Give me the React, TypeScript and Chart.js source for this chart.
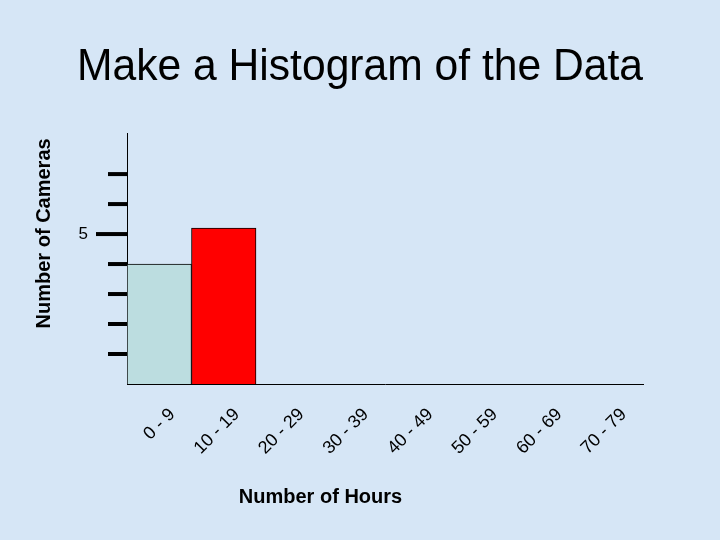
import React, { useEffect, useRef } from "react";
import { Chart, registerables } from "chart.js";

Chart.register(...registerables);

const categories = ["0 - 9", "10 - 19", "20 - 29", "30 - 39", "40 - 49", "50 - 59", "60 - 69", "70 - 79"];
const cameraCounts = [4, 5.2, 0, 0, 0, 0, 0, 0];
const barColors = ["#bcdde0", "#ff0000", "#ff0000", "#ff0000", "#ff0000", "#ff0000", "#ff0000", "#ff0000"];
const yTickValues = [1, 2, 3, 4, 5, 6, 7];
const yLabelledTick = 5;
const titleText = "Make a Histogram of the Data";
const xTitleText = "Number of Hours";
const yTitleText = "Number of Cameras";

const FONT = "'Liberation Sans', Arial, Helvetica, sans-serif";

const decorPlugin = {
  id: "decor",
  afterDraw(chart: any) {
    const ctx = chart.ctx;
    const y = chart.scales.y;
    const area = chart.chartArea;
    ctx.save();
    ctx.strokeStyle = "#000";
    ctx.lineWidth = 4;
    for (const v of yTickValues) {
      const py = y.getPixelForValue(v);
      const len = v === yLabelledTick ? 31 : 19;
      ctx.beginPath();
      ctx.moveTo(area.left - len, py);
      ctx.lineTo(area.left, py);
      ctx.stroke();
    }
    ctx.fillStyle = "#000";
    ctx.font = `bold 20px ${FONT}`;
    ctx.textAlign = "center";
    ctx.textBaseline = "middle";
    ctx.fillText(xTitleText, area.left + (area.right - area.left) * 0.375, 497);
    ctx.translate(44, area.top + (area.bottom - area.top) * 0.4);
    ctx.rotate(-Math.PI / 2);
    ctx.fillText(yTitleText, 0, 0);
    ctx.restore();
  },
};

export default function App() {
  const ref = useRef<HTMLCanvasElement>(null);
  useEffect(() => {
    if (!ref.current) return;
    const chart = new Chart(ref.current, {
      type: "bar",
      data: {
        labels: categories,
        datasets: [
          {
            data: cameraCounts,
            backgroundColor: barColors,
            borderColor: "#000",
            borderWidth: 1,
            categoryPercentage: 1,
            barPercentage: 1,
          },
        ],
      },
      options: {
        responsive: false,
        animation: false,
        layout: { padding: { left: 77, right: 77, top: 0, bottom: 0 } },
        plugins: {
          legend: { display: false },
          tooltip: { enabled: false },
          title: {
            display: true,
            text: titleText,
            color: "#000",
            font: { family: FONT, size: 45, weight: "normal" },
            padding: { top: 41, bottom: 38 },
          },
        },
        scales: {
          x: {
            grid: { display: false, drawTicks: false },
            border: { display: true, color: "#000", width: 1 },
            ticks: {
              autoSkip: false,
              maxRotation: 45,
              minRotation: 45,
              labelOffset: 13,
              padding: 20,
              color: "#000",
              font: { family: FONT, size: 18 },
            },
            afterFit(scale: any) {
              scale.height = 156;
              scale.paddingLeft = 0;
              scale.paddingRight = 0;
            },
          },
          y: {
            min: 0,
            max: 8.37,
            grid: { display: false, drawTicks: false },
            border: { display: true, color: "#000", width: 1 },
            ticks: {
              stepSize: 1,
              autoSkip: false,
              padding: 39,
              color: "#000",
              font: { family: FONT, size: 17 },
              callback: (v: any) => (v === yLabelledTick ? String(v) : ""),
            },
            afterFit(scale: any) {
              scale.width = 50;
              scale.paddingTop = 0;
              scale.paddingBottom = 0;
            },
          },
        },
      },
      plugins: [decorPlugin],
    });
    return () => chart.destroy();
  }, []);

  return (
    <div
      style={{
        position: "absolute",
        left: 0,
        top: 0,
        width: 720,
        height: 540,
        background: "rgb(214,230,246)",
      }}
    >
      <canvas ref={ref} width={720} height={540} />
    </div>
  );
}
